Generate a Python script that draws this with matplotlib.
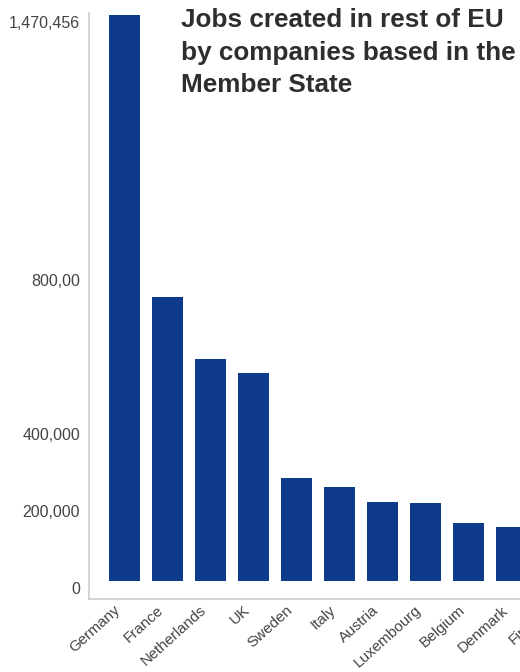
import matplotlib
matplotlib.use("Agg")
import matplotlib.pyplot as plt
from matplotlib.transforms import ScaledTranslation

countries = ["Germany", "France", "Netherlands", "UK", "Sweden", "Italy",
             "Austria", "Luxembourg", "Belgium", "Denmark", "Finland"]
jobs = [1470456, 738000, 577000, 540000, 268000, 244000,
        205000, 203000, 151000, 140000, 125000]
ytick_values = [0, 200000, 400000, 800000, 1470456]
ytick_labels = ["0", "200,000", "400,000", "800,00", "1,470,456"]

title = "Jobs created in rest of EU\nby companies based in the\nMember State"

BAR = "#0E3A8C"
GREY_TXT = "#444444"
SPINE = "#cccccc"
FONT = ["Liberation Sans", "DejaVu Sans"]

fig = plt.figure(figsize=(5.2, 6.72), dpi=100)
ax = fig.add_axes([0.171, 0.1086, 0.9458, 0.8724])

x = list(range(len(countries)))
ax.bar(x, jobs, width=0.72, color=BAR)

ax.set_xlim(-0.837, 10.6)
ax.set_ylim(-47000, 1476000)

ax.set_xticks(x)
ax.set_xticklabels(countries, rotation=42, ha="right", va="top",
                   rotation_mode="anchor", fontsize=11, color=GREY_TXT,
                   family=FONT)
ax.set_yticks(ytick_values)
ax.set_yticklabels(ytick_labels, fontsize=11.5, color=GREY_TXT, family=FONT)
ax.tick_params(axis="both", length=0)
ax.tick_params(axis="y", pad=6.5)
ax.tick_params(axis="x", pad=3)

# labels in the original sit a little below their values
shift = ScaledTranslation(0, -7 / 100, fig.dpi_scale_trans)
for lbl in ax.get_yticklabels():
    lbl.set_transform(lbl.get_transform() + shift)
xshift = ScaledTranslation(-11 / 100, 0, fig.dpi_scale_trans)
for lbl in ax.get_xticklabels():
    lbl.set_transform(lbl.get_transform() + xshift)

for side in ["top", "right"]:
    ax.spines[side].set_visible(False)
for side in ["left", "bottom"]:
    ax.spines[side].set_color(SPINE)
    ax.spines[side].set_linewidth(1.2)

fig.text(0.348, 1 - 8 / 672, title, ha="left", va="top", fontsize=18.8,
         fontweight="bold", color="#2e2e2e", linespacing=1.45, family=FONT)

fig.savefig("out.png", dpi=100)
